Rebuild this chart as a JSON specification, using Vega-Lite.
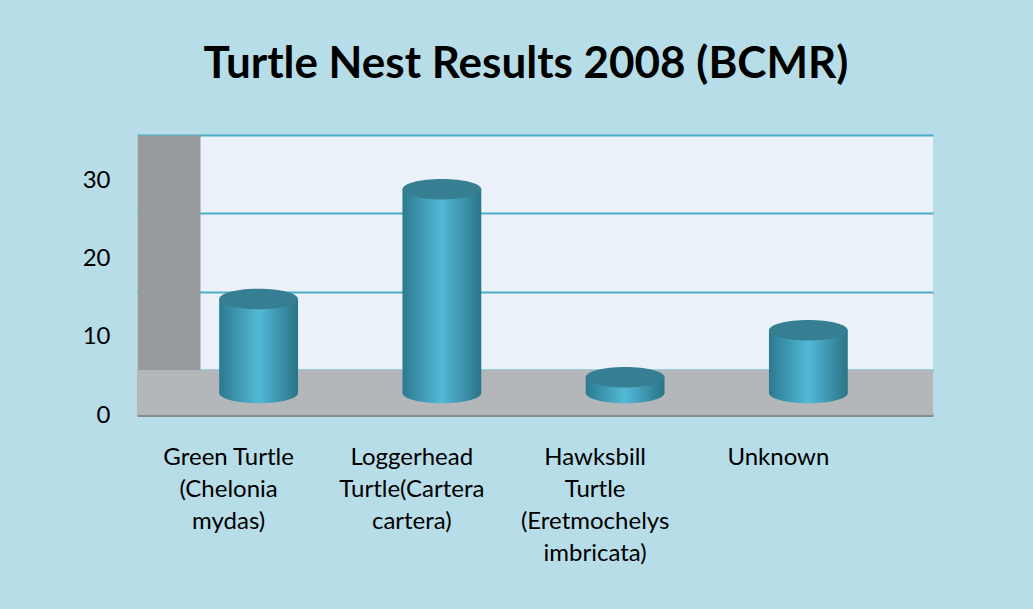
{
  "$schema": "https://vega.github.io/schema/vega-lite/v6.json",
  "width": 796,
  "height": 235,
  "autosize": {"type": "none"},
  "padding": {"left": 137, "top": 135, "right": 100, "bottom": 239},
  "background": "#B7DDE8",
  "title": {
    "text": "Turtle Nest Results 2008 (BCMR)",
    "font": "Lato",
    "fontSize": 44,
    "fontWeight": "bold",
    "color": "#000000",
    "anchor": "middle",
    "dx": -9,
    "offset": 48
  },
  "data": {
    "values": [
      {"species": "Green Turtle (Chelonia mydas)", "nests": 12},
      {"species": "Loggerhead Turtle(Cartera cartera)", "nests": 26},
      {"species": "Hawksbill Turtle (Eretmochelys imbricata)", "nests": 2},
      {"species": "Unknown", "nests": 8}
    ]
  },
  "resolve": {"axis": {"y": "independent"}},
  "layer": [
    {
      "mark": {"type": "rect", "color": "#B3B7BA"},
      "encoding": {
        "y": {
          "datum": 0,
          "type": "quantitative",
          "scale": {"domain": [0, 30], "nice": false},
          "axis": {
            "title": null,
            "orient": "left",
            "values": [0, 10, 20, 30],
            "labelFont": "Lato",
            "labelFontSize": 24,
            "labelColor": "#000000",
            "labelPadding": 27,
            "labelOffset": 45,
            "ticks": false,
            "domain": false,
            "grid": true,
            "gridColor": "#4BACC6",
            "gridWidth": 2,
            "gridOpacity": 1
          }
        },
        "y2": {"datum": -5.75}
      }
    },
    {
      "mark": {"type": "point", "filled": true, "opacity": 1, "shape": "M-1,0 A1,0.26 0 1,0 1,0 A1,0.26 0 1,0 -1,0 Z",
        "size": 6200, "xOffset": -33, "yOffset": 23,
        "color": {"gradient": "linear", "x1": 0, "x2": 1, "y1": 0, "y2": 0,
          "stops": [{"offset": 0, "color": "#2B7A8F"}, {"offset": 0.5, "color": "#53B9D7"}, {"offset": 1, "color": "#2A7386"}]}},
      "encoding": {
        "x": {
          "field": "species",
          "type": "nominal",
          "sort": null,
          "scale": {"paddingInner": 0.57, "paddingOuter": 0.4569, "align": 0.688},
          "axis": {
            "title": null,
            "labelAngle": 0,
            "labelFont": "Lato",
            "labelFontSize": 24,
            "labelColor": "#000000",
            "labelPadding": 30,
            "labelLineHeight": 32,
            "labelBaseline": "top",
            "labelOffset": -63,
            "offset": 45,
            "ticks": false,
            "domain": true,
            "domainColor": "#8A8A8A",
            "domainWidth": 3,
            "grid": false,
            "labelExpr": "datum.value == 'Green Turtle (Chelonia mydas)' ? ['Green Turtle', '(Chelonia', 'mydas)'] : datum.value == 'Loggerhead Turtle(Cartera cartera)' ? ['Loggerhead', 'Turtle(Cartera', 'cartera)'] : datum.value == 'Hawksbill Turtle (Eretmochelys imbricata)' ? ['Hawksbill', 'Turtle', '(Eretmochelys', 'imbricata)'] : datum.value"
          }
        },
        "y": {"datum": 0, "type": "quantitative", "axis": null}
      }
    },
    {
      "mark": {"type": "bar", "xOffset": -33, "yOffset": 23, "y2Offset": 23,
        "color": {"gradient": "linear", "x1": 0, "x2": 1, "y1": 0, "y2": 0,
          "stops": [{"offset": 0, "color": "#2B7A8F"}, {"offset": 0.5, "color": "#53B9D7"}, {"offset": 1, "color": "#2A7386"}]}},
      "encoding": {
        "x": {"field": "species", "type": "nominal", "sort": null},
        "y": {
          "field": "nests",
          "type": "quantitative",
          "axis": {
            "title": null,
            "orient": "left",
            "labels": false,
            "ticks": false,
            "grid": false,
            "domain": true,
            "domainColor": "#979B9D",
            "domainWidth": 63,
            "offset": -31.5
          }
        }
      }
    },
    {
      "mark": {"type": "point", "filled": true, "opacity": 1, "shape": "M-1,0 A1,0.26 0 1,0 1,0 A1,0.26 0 1,0 -1,0 Z",
        "size": 6200, "color": "#367F92", "xOffset": -33, "yOffset": 23},
      "encoding": {
        "x": {"field": "species", "type": "nominal", "sort": null},
        "y": {"field": "nests", "type": "quantitative", "axis": null}
      }
    }
  ],
  "config": {
    "view": {"fill": "#EAF1F8", "stroke": null}
  }
}
